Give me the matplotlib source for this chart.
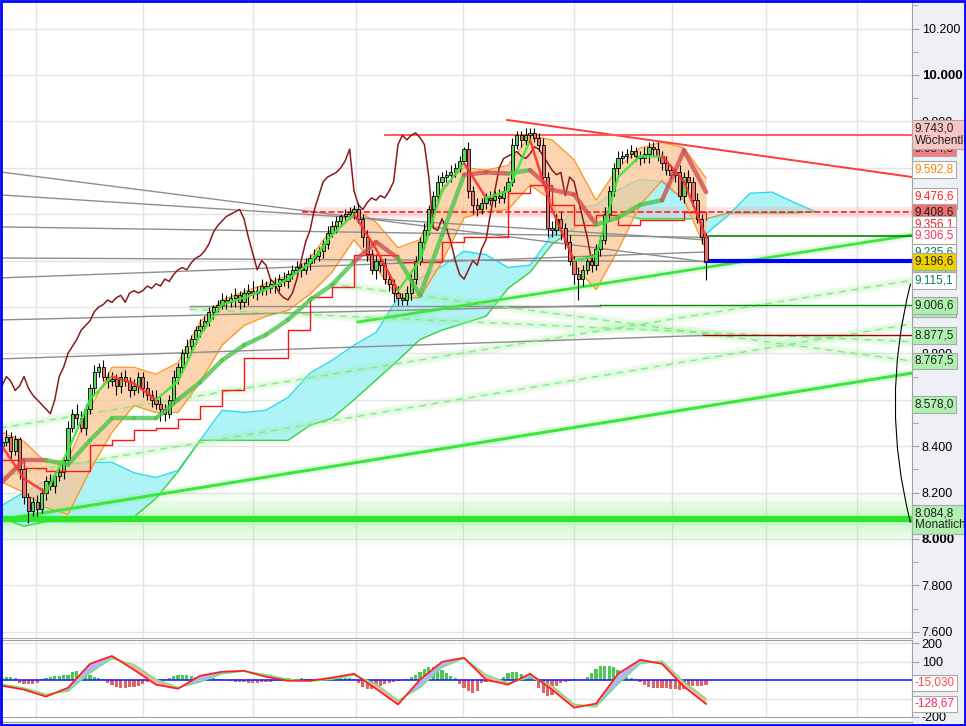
"""DAX daily chart with Ichimoku cloud, bands, trend lines and MACD panel."""
# %%
# imports
import numpy as np
import matplotlib
matplotlib.use("Agg")
import matplotlib.pyplot as plt
from matplotlib import transforms
from matplotlib.collections import LineCollection
from matplotlib.patches import Rectangle

plt.rcParams['font.family'] = ['Liberation Sans', 'DejaVu Sans']

# %%
# price data
closes = [
    8420, 8440, 8380, 8430, 8300, 8180, 8120, 8160, 8130, 8200,
    8250, 8230, 8270, 8290, 8340, 8480, 8540, 8520, 8480, 8560,
    8650, 8720, 8740, 8700, 8680, 8690, 8660, 8700, 8680, 8640,
    8660, 8700, 8650, 8620, 8600, 8580, 8560, 8540, 8600, 8700,
    8740, 8800, 8830, 8860, 8900, 8920, 8940, 8980, 9000, 9010,
    9030, 9020, 9040, 9050, 9020, 9060, 9070, 9060, 9070, 9090,
    9080, 9100, 9090, 9120, 9110, 9140, 9160, 9170, 9160, 9190,
    9210, 9220, 9240, 9270, 9320, 9350, 9370, 9390, 9400, 9410,
    9420, 9380, 9300, 9230, 9160, 9200, 9180, 9120, 9100, 9060,
    9040, 9030, 9060, 9120, 9200, 9280, 9330, 9420, 9480, 9540,
    9560, 9570, 9580, 9600, 9630, 9680, 9500, 9440, 9420, 9450,
    9470, 9460, 9480, 9470, 9500, 9540, 9700, 9740, 9720, 9740,
    9750, 9730, 9700, 9560, 9340, 9330, 9380, 9340, 9280, 9200,
    9140, 9120, 9160, 9200, 9180, 9250, 9290, 9400, 9500, 9600,
    9640, 9650, 9660, 9670, 9650, 9640, 9660, 9690, 9680, 9650,
    9620, 9590, 9570, 9580, 9480, 9560, 9540, 9460, 9380, 9300,
    9196.6]
first_open = 8400
# wick lengths in tens of points
up_wick = [2, 3, 2, 2, 1, 3, 2, 2, 3, 2, 2, 3, 2, 2, 1, 3, 2, 4, 3, 2,
           2, 3, 2, 3, 2, 3, 2, 2, 3, 2, 3, 2, 2, 3, 2, 4, 3, 2, 2, 3,
           2, 2, 3, 2, 2, 3, 2, 2, 1, 2, 3, 2, 2, 3, 2, 2, 3, 4, 2, 3,
           2, 2, 3, 2, 3, 2, 2, 3, 2, 2, 2, 3, 2, 2, 3, 2, 2, 1, 2, 2,
           2, 3, 2, 3, 2, 3, 2, 3, 2, 2, 3, 2, 3, 2, 2, 2, 3, 2, 2, 3,
           2, 2, 3, 2, 2, 1, 3, 2, 3, 2, 2, 3, 2, 3, 2, 2, 3, 2, 2, 3,
           2, 2, 2, 3, 2, 3, 2, 3, 2, 3, 2, 3, 2, 2, 3, 2, 2, 3, 2, 2,
           3, 2, 2, 3, 2, 2, 3, 2, 2, 3, 2, 3, 2, 2, 3, 2, 3, 2, 3, 2, 2]
dn_wick = [3, 2, 3, 2, 4, 3, 5, 2, 3, 2, 3, 2, 3, 2, 3, 2, 2, 3, 2, 3,
           2, 3, 2, 2, 3, 2, 4, 3, 2, 3, 2, 3, 4, 2, 3, 2, 5, 3, 2, 2,
           3, 2, 2, 3, 2, 3, 2, 2, 3, 2, 2, 3, 2, 4, 3, 2, 5, 2, 3, 2,
           3, 2, 3, 2, 2, 3, 2, 2, 3, 2, 3, 2, 2, 3, 2, 2, 3, 2, 2, 2,
           3, 2, 4, 3, 2, 4, 3, 2, 3, 4, 3, 2, 2, 3, 2, 2, 3, 2, 2, 3,
           2, 2, 3, 2, 2, 2, 3, 4, 3, 2, 3, 2, 3, 2, 2, 3, 2, 2, 3, 2,
           3, 2, 3, 3, 4, 3, 2, 5, 3, 2, 4, 9, 3, 2, 3, 2, 3, 2, 3, 2,
           3, 2, 3, 2, 2, 3, 2, 4, 3, 2, 3, 2, 2, 3, 2, 3, 5, 3, 2, 3, 8]

# indicator values, one every 5 candles
knots = np.arange(0, 161, 5)
cloud_knots = np.arange(0, 186, 5)
band_up = [8460, 8420, 8330, 8340, 8560, 8740, 8740, 8710, 8760, 8935, 9030,
           9065, 9100, 9135, 9210, 9340, 9425, 9365, 9255, 9290, 9515, 9600,
           9590, 9610, 9740, 9720, 9635, 9460, 9600, 9685, 9710, 9685, 9555]
band_lo = [8245, 8200, 8135, 8105, 8295, 8460, 8575, 8545, 8545, 8675, 8835,
           8920, 8960, 8985, 9055, 9150, 9290, 9170, 9040, 9040, 9195, 9385,
           9410, 9420, 9525, 9460, 9180, 9075, 9245, 9440, 9545, 9460, 9245]
senkou_a = [8145, 8200, 8250, 8325, 8330, 8330, 8285, 8265, 8295, 8425, 8555,
            8545, 8555, 8610, 8715, 8770, 8835, 8890, 9040, 9125, 9175, 9240,
            9225, 9170, 9180, 9310, 9420, 9440, 9505, 9550, 9540, 9460, 9315,
            9395, 9490, 9495, 9450, 9410]
senkou_b = [8090, 8055, 8075, 8075, 8075, 8075, 8095, 8175, 8290, 8425, 8425,
            8425, 8425, 8425, 8490, 8520, 8600, 8685, 8770, 8860, 8900, 8930,
            8960, 9080, 9150, 9270, 9340, 9385, 9400, 9380, 9380, 9380, 9380,
            9405, 9405, 9405, 9405, 9410]
kijun = [8245, 8340, 8340, 8320, 8425, 8520, 8520, 8520, 8600, 8675, 8770,
         8835, 8880, 8945, 9030, 9095, 9195, 9280, 9210, 9050, 9310, 9570,
         9580, 9575, 9590, 9505, 9485, 9355, 9385, 9440, 9460, 9675, 9495]
trail = [8340, 8305, 8295, 8295, 8405, 8425, 8470, 8480, 8515, 8575, 8640,
         8780, 8780, 8900, 9045, 9085, 9225, 9225, 9195, 9195, 9280, 9300,
         9300, 9490, 9525, 9440, 9355, 9395, 9355, 9375, 9375, 9410, 9375]
fast_ma = [8400, 8260, 8200, 8380, 8600, 8700, 8670, 8600, 8680, 8880, 9010,
           9040, 9075, 9120, 9190, 9310, 9400, 9250, 9070, 9200, 9500, 9620,
           9470, 9500, 9720, 9420, 9200, 9220, 9560, 9650, 9650, 9540, 9300]
chikou_shift = 26

# MACD panel
macd = [-30, -51, -89, -41, 89, 132, 57, -24, -46, 24, 46, 51, 19, -3, -3,
        14, 35, -46, -132, 3, 100, 122, 3, -24, 35, -51, -149, -127, 35, 111,
        89, -35, -129]
signal = [-22, -42, -76, -60, 40, 118, 85, 5, -40, -10, 35, 50, 30, 5, -5,
          5, 28, -20, -110, -40, 70, 120, 30, -15, 15, -30, -130, -145, -20,
          90, 105, -10, -100]
hist = [10, 15, 15, 10, -15, -20, -20, -20, -15, 5, 10, 20, 25, 25, 30,
        30, 45, 50, 40, 35, 30, 20, 10, 5, -15, -25, -35, -40, -40, -35, -35,
        -30, -20, -10, -5, 0, 5, 5, 10, 25, 30, 30, 30, 25, 15, 10,
        5, 5, 10, 5, 5, 0, -5, -10, -10, -10, -15, -15, -15, -10, -10, -10, -5,
        5, 5, 10, 5, 5, 10, 5, 5, 0, 5, 5, 0, 5, 5, 10, 10, 10, 5,
        -15, -35, -50, -50, -40, -30, -20, -15, -10, -5, 0, 5, 15,
        30, 45, 60, 70, 70, 65, 55, 40, 25, 10,
        -20, -40, -60, -70, -60, -15, -10, -10, -5, -5, 20, 40, 45, 45, 35,
        10, 10, 5, -40, -70, -85, -80, -30, -15, -10, -5, 5, 5, 0,
        20, 40, 60, 75, 78, 78, 70, 55, 35, 15, 10, 5,
        -10, -25, -35, -40, -40, -40, -40, -45, -45, -55, -50, -40, -30, -30,
        -30, -25]
macd_last = -128.67
macd_level = -15.03

# drawn levels and trend lines (candle index, price)
month_idx = [7.7, 32.0, 57.0, 80.5, 104.8, 130.0, 152.3, 173.6, 194.3]
x_end = 206.8
levels = [  # start index, price, colour, width, style
    (87.0, 9743.0, '#ff5a5a', 1.4, '-'),
    (68.2, 9408.6, '#ff2020', 1.2, '--'),
    (160.0, 9306.5, '#008a00', 1.2, '-'),
    (136.0, 9006.6, '#008a00', 1.0, '-'),
    (159.3, 8877.5, '#a00000', 1.0, '-'),
    (160.0, 9196.6, '#0000ff', 3.0, '-'),
]
grey_lines = [  # x0, p0, x1, p1
    (-0.45, 9582, 160.0, 9194),
    (-0.45, 9483, 160.0, 9289),
    (-0.45, 9345, 160.0, 9300),
    (-0.45, 9211, 160.0, 9196),
    (-0.45, 9125, 160.0, 9237),
    (-0.45, 8944, 136.0, 9006),
    (-0.45, 8776, 159.3, 8877),
    (42.7, 9002, 136.0, 9002),
]
green_lines = [  # x0, p0, x1, p1, width, dashed
    (114.8, 9806, x_end, 9560, 1.4, False),
    (80.9, 8935, x_end, 9310, 2.0, False),
    (-0.45, 8082, x_end, 8715, 2.2, False),
    (-0.45, 8478, x_end, 9115, 1.0, True),
    (-0.45, 8271, x_end, 8927, 1.0, True),
    (74.5, 9100, x_end, 8767, 1.0, True),
    (42.7, 8990, x_end, 8850, 1.0, True),
]
monthly = 8084.8

# right axis labels: value, text colour, box colour (drawn in this order)
labels = [
    (9684.5, '#202020', '#f08080'),
    (9743.0, '#202020', '#f8c4c4'),
    (9592.8, '#ff8000', 'white'),
    (9457.1, '#ff2020', 'white'),
    (9476.6, '#ff2020', 'white'),
    (9408.6, '#202020', '#f07070'),
    (9356.1, '#ff2020', 'white'),
    (9306.5, '#ff3060', 'white'),
    (9235.6, '#008060', 'white'),
    (9171.8, '#006000', '#90e090'),
    (9196.6, '#202020', '#f0d000'),
    (9115.1, '#008060', 'white'),
    (8992.2, '#006000', '#b0f0b0'),
    (9006.6, '#202020', '#b0f0b0'),
    (8877.5, '#202020', '#b0f0b0'),
    (8767.5, '#202020', '#b0f0b0'),
    (8578.0, '#202020', '#b0f0b0'),
    (8084.8, '#202020', '#b0f0b0'),
]
label_sub = {9743.0: 'Wöchentli', 8084.8: 'Monatlich'}
hidden_ticks = [9600, 9400, 9200, 9000, 8600]


def de_num(v, dec=1):
    s = f"{v:,.{dec}f}"
    return s.replace(',', 'X').replace('.', ',').replace('X', '.')


def colored_line(ax, xs, ys, colors, lw, alpha, z):
    pts = np.column_stack([xs, ys])
    segs = np.stack([pts[:-1], pts[1:]], axis=1)
    ax.add_collection(LineCollection(segs, colors=colors, linewidths=lw,
                                     alpha=alpha, zorder=z, capstyle='round'))


def glow(ax, xs, ys, color, widths, alpha):
    for w in widths:
        ax.plot(xs, ys, color=color, lw=w, alpha=alpha,
                solid_capstyle='butt', zorder=1.2)


# %%
fig = plt.figure(figsize=(9.66, 7.26), dpi=100)
fig.patches.append(Rectangle((0.9441, 0), 0.0559, 1, transform=fig.transFigure,
                             color='#eef0f5', zorder=-5))
ax = fig.add_axes([0, 0.1212, 0.9441, 0.8788])
axm = fig.add_axes([0, 0.0124, 0.9441, 0.1061])

c = np.array(closes, float)
o = np.r_[first_open, c[:-1]]
hi = np.maximum(o, c) + np.array(up_wick) * 10
lo = np.minimum(o, c) - np.array(dn_wick) * 10
x = np.arange(len(c))
up = c >= o

# grid
for m in month_idx:
    ax.axvline(m, color='#e2e2e2', lw=1, zorder=0.5)
    axm.axvline(m, color='#e2e2e2', lw=1, zorder=0.5)
for p in range(7600, 10400, 200):
    ax.axhline(p, color='#e4e4e4', lw=1, zorder=0.5)

# monthly glow band
for k, a in zip([70, 50, 32, 18], [0.10, 0.12, 0.14, 0.16]):
    ax.axhspan(monthly - k * 1.6, monthly + k * 1.6, color='#8ef08e',
               alpha=a, lw=0, zorder=0.6)

# Ichimoku cloud
ax.fill_between(cloud_knots, senkou_a, senkou_b, color='#a6f2f7', alpha=0.9,
                lw=0, zorder=1)
ax.plot(cloud_knots, senkou_a, color='#28dcec', lw=1, zorder=1.1)
ax.plot(cloud_knots, senkou_b, color='#3cd23c', lw=1, zorder=1.1)

# orange band
ax.fill_between(knots, band_up, band_lo, color='#fcc490', alpha=0.72, lw=0,
                zorder=1.5)
ax.plot(knots, band_up, color='#ff9420', lw=0.9, zorder=1.6)
ax.plot(knots, band_lo, color='#ff9420', lw=0.9, zorder=1.6)

# grey lines
for x0, p0, x1, p1 in grey_lines:
    ax.plot([x0, x1], [p0, p1], color='#8e8e8e', lw=1.0, zorder=1.8)

# green / red trend lines
for i, (x0, p0, x1, p1, w, dashed) in enumerate(green_lines):
    if i == 0:
        ax.plot([x0, x1], [p0, p1], color='#ff3a3a', lw=w, zorder=2)
    elif dashed:
        glow(ax, [x0, x1], [p0, p1], '#9af09a', [7, 4], 0.15)
        ax.plot([x0, x1], [p0, p1], color='#86e886', lw=w, ls=(0, (5, 4)),
                zorder=2)
    else:
        glow(ax, [x0, x1], [p0, p1], '#7cec7c', [6], 0.2)
        ax.plot([x0, x1], [p0, p1], color='#3ce63c', lw=w, zorder=2)

# horizontal levels
for x0, p, col, w, ls in levels:
    if ls == '--':
        glow(ax, [x0, x_end], [p, p], '#ff9a9a', [8], 0.25)
    ax.plot([x0, x_end], [p, p], color=col, lw=w, ls=ls, zorder=2.2)
ax.axhline(monthly, color='#2ee62e', lw=4.5, zorder=2.2)

# chikou span
ax.plot(x[chikou_shift:] - chikou_shift, c[chikou_shift:], color='#8b1a1a',
        lw=1.1, zorder=2.4)

# candles
ax.vlines(x, lo, hi, color='black', lw=0.8, zorder=3)
ax.bar(x[up], (c - o)[up], bottom=o[up], width=0.75, color='#5ad65a',
       edgecolor='black', lw=0.6, zorder=3.1)
ax.bar(x[~up], (o - c)[~up], bottom=c[~up], width=0.75, color='#e87070',
       edgecolor='black', lw=0.6, zorder=3.1)

# trailing line, kijun, fast average
ax.plot(knots, trail, color='#ff1414', lw=1.0, drawstyle='steps-post',
        zorder=3.5)
kj = np.array(kijun, float)
kj_cols = ['#d05050' if kj[j + 1] > c[knots[j + 1]] else '#4cc44c'
           for j in range(len(kj) - 1)]
colored_line(ax, knots, kj, kj_cols, 3.2, 0.8, 3.6)
fm = np.array(fast_ma, float)
fm_cols = ['#3ee63e' if fm[j + 1] >= fm[j] else '#ff3030'
           for j in range(len(fm) - 1)]
colored_line(ax, knots, fm, fm_cols, 1.8, 0.9, 3.7)

# arc bracket
ax.annotate('', xy=(x_end - 0.2, 8060), xytext=(x_end - 0.2, 9110),
            arrowprops=dict(arrowstyle='-', color='black', lw=0.8,
                            connectionstyle='arc3,rad=0.13'),
            annotation_clip=False, zorder=4)

ax.set_xlim(-0.45, x_end)
ax.set_ylim(7573, 10323)
ax.yaxis.tick_right()
major = np.arange(7600, 10400, 200)
ax.set_yticks(major)
ax.set_yticks(np.arange(7700, 10400, 200), minor=True)
ax.set_yticklabels(['' if v in hidden_ticks else de_num(v, 0) for v in major])
ax.tick_params(axis='y', which='major', length=5, color='#a0a0a0',
               labelsize=9, pad=2)
ax.tick_params(axis='y', which='minor', length=4, color='#a0a0a0')
ax.set_xticks([])
for t in ax.get_yticklabels():
    if t.get_text() in ('10.000', '8.000'):
        t.set_fontweight('bold')
        t.set_fontsize(9.5)
for s in ['top', 'left']:
    ax.spines[s].set_visible(False)
ax.spines['right'].set_color('#a0a0a0')
ax.spines['bottom'].set_color('#b0b0b0')

# value labels
trans = transforms.blended_transform_factory(ax.transAxes, ax.transData)
for val, fg, bg in labels:
    txt = de_num(val)
    if val in label_sub:
        txt = txt + '\n' + label_sub[val]
    ax.text(1.003, val, txt, transform=trans, ha='left', va='center',
            fontsize=8.5, color=fg, linespacing=1.05, clip_on=False,
            zorder=10,
            bbox=dict(boxstyle='square,pad=0.2', fc=bg, ec='#a8a8a8', lw=0.8))

# %%
# MACD panel
axm.set_xlim(-0.45, x_end)
axm.set_ylim(-197, 219)
for g in (200, 100, -100):
    axm.axhline(g, color='#e4e4e4', lw=1, zorder=0.5)
hv = np.array(hist, float)
axm.bar(x, hv, width=0.72, color=np.where(hv >= 0, '#4cc84c', '#e06464'),
        lw=0, zorder=2)
axm.axhline(0, color='#2020ff', lw=1.2, zorder=2.5)
md = np.array(macd, float)
sg = np.array(signal, float)
axm.fill_between(knots, md, sg, where=md >= sg, interpolate=True,
                 color='#b4b4fa', lw=0, zorder=3)
axm.fill_between(knots, md, sg, where=md < sg, interpolate=True,
                 color='#f8b0b0', lw=0, zorder=3)
axm.plot(knots, sg, color='#6ee66e', lw=1.0, zorder=3.2)
axm.plot(knots, md, color='#ff2020', lw=1.3, zorder=3.4)
axm.yaxis.tick_right()
axm.set_yticks([200, 100, -200])
axm.set_yticklabels(['200', '100', '-200'])
axm.tick_params(axis='y', length=5, color='#a0a0a0', labelsize=9, pad=2)
axm.set_xticks([])
axm.spines['left'].set_visible(False)
for s in ['top', 'bottom', 'right']:
    axm.spines[s].set_color('#a0a0a0')
transm = transforms.blended_transform_factory(axm.transAxes, axm.transData)
for val, fg in [(macd_level, '#ff4848'), (macd_last, '#ff2060')]:
    axm.text(1.003, val, de_num(val, 3 if val == macd_level else 2),
             transform=transm, ha='left', va='center', fontsize=8.5, color=fg,
             clip_on=False, zorder=10,
             bbox=dict(boxstyle='square,pad=0.2', fc='white', ec='#a8a8a8',
                       lw=0.8))

fig.add_artist(plt.Line2D([0, 0.9441], [1 - 722 / 726] * 2,
                          transform=fig.transFigure, color='#a0a0a0', lw=1))
fig.add_artist(Rectangle((0.001, 0.001), 0.998, 0.998,
                         transform=fig.transFigure, fill=False, ec='#0000ff',
                         lw=2, zorder=20))

fig.savefig('out.png', dpi=100)
